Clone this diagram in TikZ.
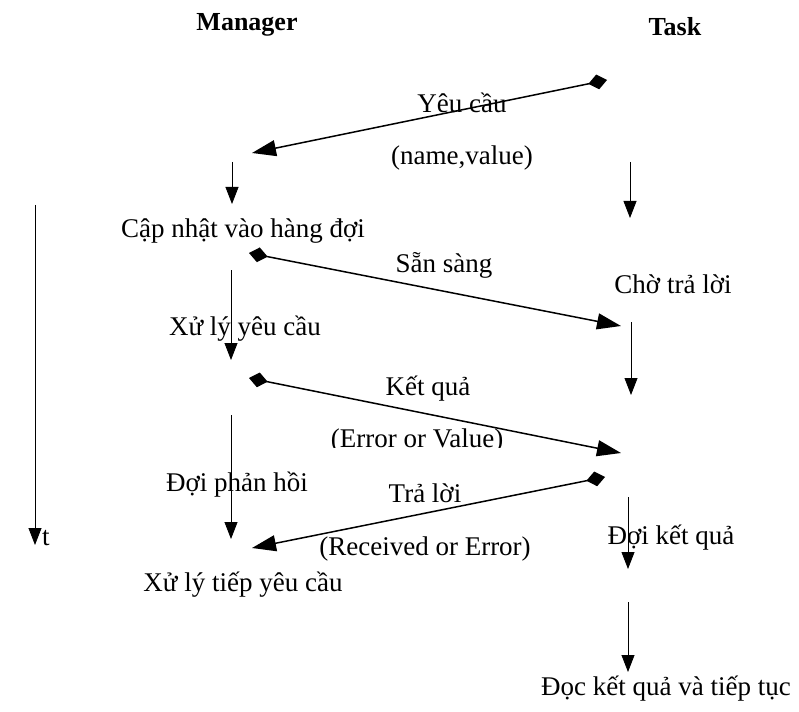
\documentclass[tikz,border=0pt]{standalone}
\usepackage{fontspec}
\setmainfont{Liberation Serif}
\usetikzlibrary{arrows.meta}
\begin{document}
\begin{tikzpicture}[x=1pt,y=-1pt,
  lbl/.style={inner sep=0pt,font=\fontsize{27}{30}\selectfont},
  head/.style={inner sep=0pt,font=\fontsize{26}{29}\selectfont\bfseries},
  msg/.style={line width=1.5pt,{Diamond[length=19pt,width=15pt]}-{Triangle[length=24pt,width=16pt]}},
  flow/.style={line width=0.8pt,-{Triangle[length=17pt,width=13pt]}}]
\useasboundingbox (0,0) rectangle (799,711);

% column headers
\node[head] (mgr) at (247,25) {Manager};
\node[head] (task) at (675,27) {Task};

% state labels, Manager side
\node[lbl] (upd) at (243,231) {Cập nhật vào hàng đợi};
\node[lbl] (proc) at (245,329) {Xử lý yêu cầu};
\node[lbl] (wait) at (237,485) {Đợi phản hồi};
\node[lbl] (cont) at (243,585) {Xử lý tiếp yêu cầu};

% state labels, Task side
\node[lbl] (wreply) at (673,284) {Chờ trả lời};
\node[lbl] (wres) at (671,538) {Đợi kết quả};
\node[lbl] (read) at (666,689) {Đọc kết quả và tiếp tục};

% message labels
\node[lbl] (m1) at (462,103) {Yêu cầu};
\node[lbl] (m1b) at (462,158) {(name,value)};
\node[lbl] (m2) at (444,265) {Sẵn sàng};
\node[lbl] (m3) at (428,389) {Kết quả};
\begin{scope}
  \clip (300,420) rectangle (540,447);
  \node[lbl] (m3b) at (417,441) {(Error or Value)};
\end{scope}
\node[lbl] (m4) at (425,493) {Trả lời};
\node[lbl] (m4b) at (425,549) {(Received or Error)};

% time axis
\node[lbl,anchor=west] (tl) at (42,538) {t};

% end points of the connectors
\coordinate (r1) at (607,80);   \coordinate (l1) at (252,153);
\coordinate (l2) at (249,253);  \coordinate (r2) at (621,326);
\coordinate (l3) at (249,378);  \coordinate (r3) at (621,453);
\coordinate (r4) at (605,477);  \coordinate (l4) at (252,548);
\coordinate (lv1a) at (232,162); \coordinate (lv1b) at (232,204);
\coordinate (lv2a) at (231,270); \coordinate (lv2b) at (231,360);
\coordinate (lv3a) at (231,415); \coordinate (lv3b) at (231,539);
\coordinate (rv1a) at (630,162); \coordinate (rv1b) at (630,218);
\coordinate (rv2a) at (631,322); \coordinate (rv2b) at (631,395);
\coordinate (rv3a) at (628,497); \coordinate (rv3b) at (628,569);
\coordinate (rv4a) at (628,602); \coordinate (rv4b) at (628,672);
\coordinate (ta) at (35,205);    \coordinate (tb) at (35,545);

% messages between the two sides
\draw[msg] (r1) -- (l1);
\draw[msg] (l2) -- (r2);
\draw[msg] (l3) -- (r3);
\draw[msg] (r4) -- (l4);

% progress on each side
\draw[flow] (lv1a) -- (lv1b);
\draw[flow] (lv2a) -- (lv2b);
\draw[flow] (lv3a) -- (lv3b);
\draw[flow] (rv1a) -- (rv1b);
\draw[flow] (rv2a) -- (rv2b);
\draw[flow] (rv3a) -- (rv3b);
\draw[flow] (rv4a) -- (rv4b);
\draw[flow] (ta) -- (tb);
\end{tikzpicture}
\end{document}
